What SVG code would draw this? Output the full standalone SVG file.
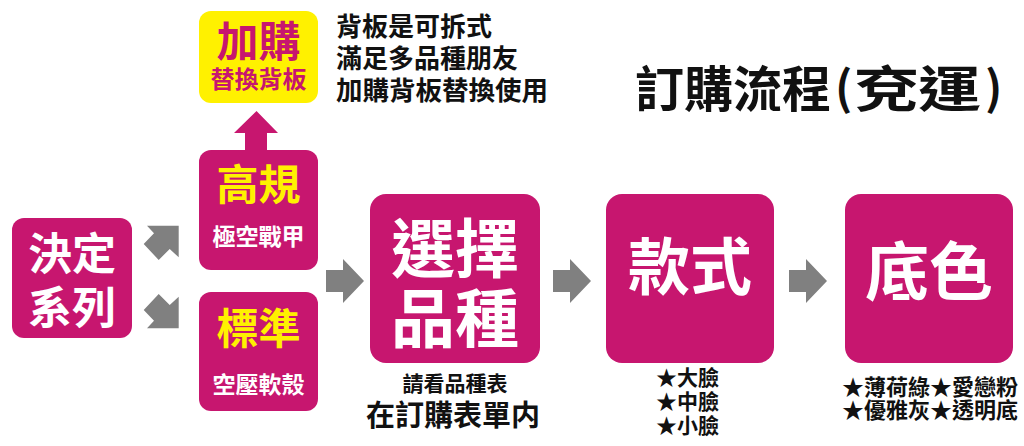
<svg xmlns="http://www.w3.org/2000/svg" width="1024" height="446" viewBox="0 0 1024 446">
<style>
text{font-family:"Noto Sans CJK TC","Noto Sans CJK SC",sans-serif;font-weight:700}
.box{fill:#C7166F}
.ybox{fill:#FFF100}
.arr{fill:#808080}
.c{text-anchor:middle}
.w{fill:#FFFFFF}
.y{fill:#FFF100}
.m{fill:#C7166F}
.k{fill:#111111}
</style>
<rect width="1024" height="446" fill="#FFFFFF"/>
<g id="connectors">
<polygon class="m" points="256.5,111 278,133 267,133 267,151 245,151 245,133 234,133"/>
<polygon class="arr" points="178.7,225.7 147,225.7 154,233.3 143.7,244 158.7,260 169.7,249 178.7,257.3"/>
<polygon class="arr" points="178.7,328.3 147,328.3 154,320.7 143.7,310 158.7,294 169.7,305 178.7,296.7"/>
<polygon class="arr" points="326,270 343,270 343,259 364,281 343,303 343,292 326,292"/>
<polygon class="arr" points="553,270 570,270 570,259 591,281 570,303 570,292 553,292"/>
<polygon class="arr" points="789,270 806,270 806,259 827,281 806,303 806,292 789,292"/>
</g>
<g id="node-jiagou">
<rect class="ybox" x="199" y="11" width="119" height="92" rx="12"/>
<text class="m c" x="258.5" y="57" font-size="42">加購</text>
<text class="m c" x="258.5" y="88" font-size="24">替換背板</text>
</g>
<g id="note-jiagou">
<text class="k" x="336" y="36" font-size="26">背板是可拆式</text>
<text class="k" x="336" y="68" font-size="26">滿足多品種朋友</text>
<text class="k" x="336" y="100" font-size="26.5">加購背板替換使用</text>
</g>
<g id="title">
<text class="k" x="635" y="107" font-size="49">訂購流程</text>
<text class="k" x="835" y="105" font-size="46">(</text>
<text class="k" x="855" y="107" font-size="49" textLength="126" lengthAdjust="spacingAndGlyphs">兗運</text>
<text class="k" x="985" y="105" font-size="46">)</text>
</g>
<g id="node-gaogui">
<rect class="box" x="199" y="150" width="119" height="120" rx="12"/>
<text class="y c" x="258.5" y="200" font-size="42">高規</text>
<text class="w c" x="258.5" y="245" font-size="23">極空戰甲</text>
</g>
<g id="node-biaozhun">
<rect class="box" x="199" y="292" width="119" height="119" rx="12"/>
<text class="y c" x="258.5" y="344" font-size="42">標準</text>
<text class="w c" x="258.5" y="393" font-size="23">空壓軟殼</text>
</g>
<g id="node-jueding">
<rect class="box" x="12" y="218" width="120" height="120" rx="12"/>
<text class="w c" x="72" y="270" font-size="44">決定</text>
<text class="w c" x="72" y="324" font-size="44">系列</text>
</g>
<g id="node-xuanze">
<rect class="box" x="370" y="194" width="170" height="169" rx="16"/>
<text class="w c" x="455" y="272" font-size="64">選擇</text>
<text class="w c" x="455" y="342" font-size="64">品種</text>
<text class="k c" x="455" y="391" font-size="21">請看品種表</text>
<text class="k c" x="453" y="426" font-size="29">在訂購表單内</text>
</g>
<g id="node-kuanshi">
<rect class="box" x="606" y="194" width="168" height="169" rx="16"/>
<text class="w c" x="690" y="290" font-size="62">款式</text>
<text class="k" x="656" y="385" font-size="21">★大臉</text>
<text class="k" x="656" y="409" font-size="21">★中臉</text>
<text class="k" x="656" y="433" font-size="21">★小臉</text>
</g>
<g id="node-dise">
<rect class="box" x="845" y="194" width="168" height="169" rx="16"/>
<text class="w c" x="929" y="295" font-size="64">底色</text>
<text class="k" x="842" y="395" font-size="22">★薄荷綠★愛戀粉</text>
<text class="k" x="842" y="418" font-size="22">★優雅灰★透明底</text>
</g>
</svg>
